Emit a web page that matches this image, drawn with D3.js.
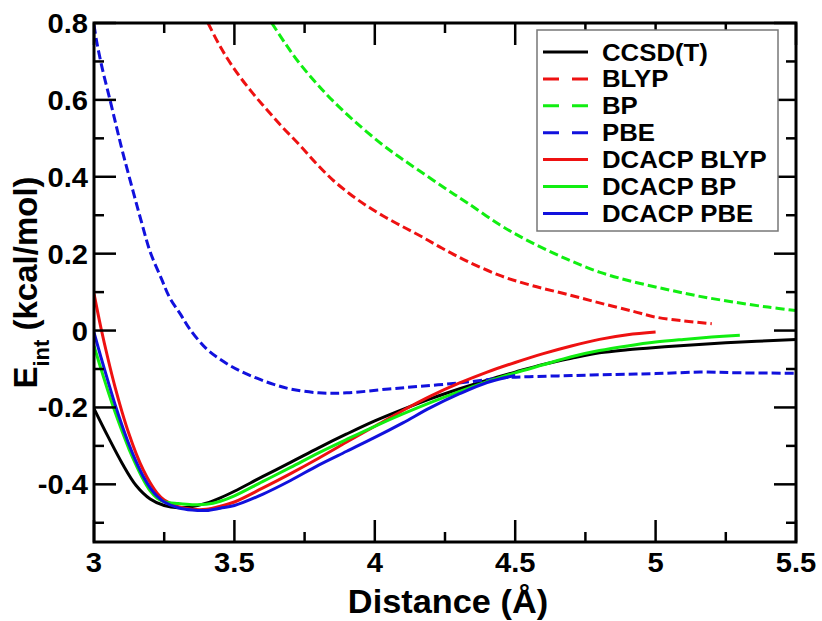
<!DOCTYPE html>
<html>
<head>
<meta charset="utf-8">
<script src="https://cdn.jsdelivr.net/npm/d3@7"></script>
<style>
  body { margin: 0; background: #fff; }
  svg text { font-family: "Liberation Sans", Arial, Helvetica, sans-serif; font-weight: bold; }
</style>
</head>
<body>
<div id="chart"></div>
<script>
// Values (distance in Å, energy in kcal/mol)
const ccsdt = [[3.0,-0.203],[3.05,-0.276],[3.10,-0.345],[3.15,-0.403],[3.20,-0.438],[3.25,-0.455],
    [3.30,-0.461],[3.35,-0.458],[3.40,-0.449],[3.45,-0.435],[3.50,-0.418],[3.60,-0.38],[3.70,-0.343],
    [3.80,-0.305],[3.90,-0.269],[4.0,-0.235],[4.1,-0.205],[4.2,-0.177],[4.3,-0.152],[4.4,-0.129],
    [4.5,-0.108],[4.6,-0.088],[4.7,-0.072],[4.8,-0.058],[4.9,-0.05],[5.0,-0.044],[5.1,-0.039],
    [5.25,-0.032],[5.5,-0.023]];
const blyp = [[3.406,0.80],[3.45,0.738],[3.50,0.68],[3.56,0.622],[3.615,0.575],[3.67,0.53],[3.733,0.482],
    [3.79,0.436],[3.85,0.392],[3.91,0.356],[3.97,0.325],[4.03,0.298],[4.10,0.27],[4.17,0.243],[4.24,0.214],
    [4.33,0.18],[4.45,0.142],[4.56,0.117],[4.68,0.095],[4.80,0.072],[4.92,0.05],[5.0,0.035],[5.1,0.025],[5.2,0.018]];
const bp = [[3.633,0.80],[3.68,0.748],[3.73,0.697],[3.79,0.645],[3.85,0.598],[3.93,0.543],[4.03,0.482],
    [4.09,0.45],[4.16,0.415],[4.25,0.37],[4.33,0.332],[4.445,0.275],[4.55,0.232],[4.68,0.187],[4.80,0.152],
    [4.92,0.127],[5.04,0.107],[5.15,0.09],[5.27,0.075],[5.4,0.061],[5.5,0.052]];
const pbe = [[3.0,0.795],[3.01,0.75],[3.03,0.68],[3.057,0.60],[3.08,0.53],[3.10,0.47],[3.14,0.36],
    [3.17,0.28],[3.20,0.205],[3.24,0.135],[3.27,0.085],[3.31,0.04],[3.34,0.005],[3.40,-0.047],[3.46,-0.08],
    [3.52,-0.105],[3.58,-0.124],[3.64,-0.14],[3.70,-0.152],[3.80,-0.162],[3.9,-0.162],[4.05,-0.152],
    [4.16,-0.145],[4.29,-0.137],[4.40,-0.128],[4.47,-0.122],[4.55,-0.12],[4.7,-0.117],[4.86,-0.114],
    [5.0,-0.112],[5.16,-0.108],[5.3,-0.11],[5.5,-0.111]];
const dcacpBlyp = [[3.0,0.096],[3.025,0.006],[3.05,-0.074],[3.075,-0.147],[3.10,-0.212],[3.125,-0.27],
    [3.15,-0.32],[3.175,-0.362],[3.20,-0.396],[3.225,-0.423],[3.25,-0.441],[3.30,-0.458],[3.35,-0.465],
    [3.40,-0.465],[3.45,-0.457],[3.50,-0.446],[3.60,-0.41],[3.70,-0.372],[3.80,-0.332],[3.90,-0.29],
    [4.0,-0.249],[4.1,-0.208],[4.2,-0.17],[4.3,-0.137],[4.4,-0.108],[4.5,-0.083],[4.6,-0.06],[4.7,-0.04],
    [4.8,-0.023],[4.9,-0.011],[5.0,-0.004]];
const dcacpBp = [[3.0,-0.04],[3.025,-0.10],[3.05,-0.158],[3.075,-0.212],[3.10,-0.262],[3.125,-0.309],
    [3.15,-0.35],[3.175,-0.387],[3.20,-0.417],[3.225,-0.436],[3.25,-0.445],[3.30,-0.45],[3.35,-0.453],
    [3.40,-0.452],[3.45,-0.444],[3.50,-0.43],[3.60,-0.393],[3.70,-0.356],[3.80,-0.318],[3.90,-0.283],
    [4.0,-0.249],[4.1,-0.217],[4.2,-0.187],[4.3,-0.159],[4.4,-0.133],[4.5,-0.11],[4.6,-0.089],[4.7,-0.068],
    [4.8,-0.052],[4.9,-0.04],[5.0,-0.03],[5.1,-0.023],[5.2,-0.017],[5.3,-0.012]];
const dcacpPbe = [[3.0,-0.005],[3.025,-0.07],[3.05,-0.132],[3.075,-0.192],[3.10,-0.247],[3.125,-0.297],
    [3.15,-0.341],[3.175,-0.379],[3.20,-0.409],[3.225,-0.431],[3.25,-0.446],[3.30,-0.461],[3.35,-0.467],
    [3.40,-0.468],[3.45,-0.462],[3.50,-0.455],[3.60,-0.426],[3.70,-0.39],[3.80,-0.35],[3.90,-0.314],
    [4.0,-0.278],[4.1,-0.24],[4.2,-0.2],[4.3,-0.165],[4.4,-0.135],[4.5,-0.117]];

const seriesNames = ['CCSD(T)', 'BLYP', 'BP', 'PBE', 'DCACP BLYP', 'DCACP BP', 'DCACP PBE'];
const seriesData = [ccsdt, blyp, bp, pbe, dcacpBlyp, dcacpBp, dcacpPbe];
const seriesColors = ['#000000', '#ee1111', '#11ee11', '#1111dd', '#ee1111', '#11ee11', '#1111dd'];
const seriesDashed = [false, true, true, true, false, false, false];

const xMajor = [3, 3.5, 4, 4.5, 5, 5.5];
const xMinor = [3.25, 3.75, 4.25, 4.75, 5.25];
const yMajor = [-0.4, -0.2, 0, 0.2, 0.4, 0.6, 0.8];
const yMinor = [-0.5, -0.3, -0.1, 0.1, 0.3, 0.5, 0.7];

const W = 822, H = 621;
const plotLeft = 94, plotRight = 796, plotTop = 23, plotBottom = 542;

const svg = d3.select('#chart').append('svg')
    .attr('width', W)
    .attr('height', H);

const x = d3.scaleLinear().domain([3, 5.5]).range([plotLeft, plotRight]);
const y = d3.scaleLinear().domain([-0.55, 0.8]).range([plotBottom, plotTop]);

// the original font is a bit wider than Liberation Sans, so stretch the text
function widen(sel, f) {
    sel.each(function() {
        const w = this.getComputedTextLength();
        d3.select(this).attr('textLength', w * f).attr('lengthAdjust', 'spacingAndGlyphs');
    });
}

svg.append('clipPath').attr('id', 'plot-clip')
  .append('rect')
    .attr('x', plotLeft).attr('y', plotTop)
    .attr('width', plotRight - plotLeft).attr('height', plotBottom - plotTop);

// curves
const line = d3.line()
    .x(d => x(d[0]))
    .y(d => y(d[1]))
    .curve(d3.curveCatmullRom);

const curves = svg.append('g').attr('clip-path', 'url(#plot-clip)');
seriesData.forEach((data, i) => {
    curves.append('path')
        .datum(data)
        .attr('d', line)
        .attr('fill', 'none')
        .attr('stroke', seriesColors[i])
        .attr('stroke-width', 3)
        .attr('stroke-dasharray', seriesDashed[i] ? '9,4' : null);
});

// ticks on all four sides, pointing inward
function ticks(g, scale, values, len, orient) {
    values.forEach(v => {
        const p = scale(v);
        let l;
        if (orient === 'bottom') l = [p, plotBottom, p, plotBottom - len];
        if (orient === 'top') l = [p, plotTop, p, plotTop + len];
        if (orient === 'left') l = [plotLeft, p, plotLeft + len, p];
        if (orient === 'right') l = [plotRight, p, plotRight - len, p];
        g.append('line')
            .attr('x1', l[0]).attr('y1', l[1])
            .attr('x2', l[2]).attr('y2', l[3])
            .attr('stroke', '#000')
            .attr('stroke-width', 2.5);
    });
}
const tickG = svg.append('g');
ticks(tickG, x, xMajor, 22, 'bottom');
ticks(tickG, x, xMinor, 10, 'bottom');
ticks(tickG, x, xMajor, 22, 'top');
ticks(tickG, x, xMinor, 10, 'top');
ticks(tickG, y, yMajor, 22, 'left');
ticks(tickG, y, yMinor, 10, 'left');
ticks(tickG, y, yMajor, 22, 'right');
ticks(tickG, y, yMinor, 10, 'right');

// legend (drawn over the ticks)
const legend = svg.append('g');
legend.append('rect')
    .attr('x', 537).attr('y', 30)
    .attr('width', 241).attr('height', 201)
    .attr('fill', '#fff')
    .attr('stroke', '#777')
    .attr('stroke-width', 1.5);
seriesNames.forEach((name, i) => {
    const cy = 52 + i * 26.9;
    legend.append('line')
        .attr('x1', 543).attr('x2', 588)
        .attr('y1', cy).attr('y2', cy)
        .attr('stroke', seriesColors[i])
        .attr('stroke-width', 3)
        .attr('stroke-dasharray', seriesDashed[i] ? '16,13' : null);
    legend.append('text')
        .attr('class', 'legend-label')
        .attr('x', 602)
        .attr('y', cy + 8.5)
        .attr('font-size', 23)
        .text(name);
});
widen(legend.selectAll('.legend-label'), 1.12);

// frame
svg.append('rect')
    .attr('x', plotLeft).attr('y', plotTop)
    .attr('width', plotRight - plotLeft).attr('height', plotBottom - plotTop)
    .attr('fill', 'none')
    .attr('stroke', '#000')
    .attr('stroke-width', 3);

// tick labels
const xLabels = svg.append('g').selectAll('text')
    .data(xMajor)
    .join('text')
    .attr('x', d => x(d))
    .attr('y', 572)
    .attr('text-anchor', 'middle')
    .attr('font-size', 27)
    .text(d => d);
widen(xLabels, 1.08);

const yLabels = svg.append('g').selectAll('text')
    .data(yMajor)
    .join('text')
    .attr('x', 88)
    .attr('y', d => y(d) + 10)
    .attr('text-anchor', 'end')
    .attr('font-size', 27)
    .text(d => d);
widen(yLabels, 1.08);

// axis titles
const xTitle = svg.append('text')
    .attr('x', (plotLeft + plotRight) / 2 + 3)
    .attr('y', 613)
    .attr('text-anchor', 'middle')
    .attr('font-size', 33)
    .text('Distance (Å)');
widen(xTitle, 1.04);

const yTitle = svg.append('text')
    .attr('transform', `translate(37,${(plotTop + plotBottom) / 2}) rotate(-90)`)
    .attr('text-anchor', 'middle')
    .attr('font-size', 33);
yTitle.append('tspan').text('E');
yTitle.append('tspan').attr('font-size', 22).attr('dy', 12).text('int');
yTitle.append('tspan').attr('dy', -12).text(' (kcal/mol)');
</script>
</body>
</html>
